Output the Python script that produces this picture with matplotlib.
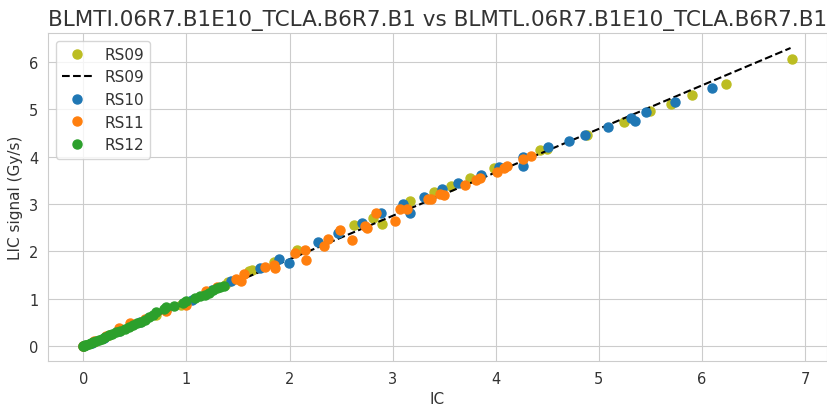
import matplotlib
matplotlib.use('Agg')
import matplotlib.pyplot as plt
import seaborn as sns

sns.set_style('whitegrid')

# RS09
rs09_x = [0.0, 0.1, 0.25, 0.45, 0.7, 0.95, 1.2, 1.37, 1.40, 1.61, 1.64, 1.85, 2.07,
          2.63, 2.81, 2.90, 3.17, 3.40, 3.57, 3.75, 3.98, 4.43, 4.50, 4.89, 5.24,
          5.50, 5.70, 5.90, 6.23, 6.87]
rs09_y = [0.0, 0.09, 0.23, 0.42, 0.66, 0.88, 1.12, 1.29, 1.36, 1.59, 1.61, 1.78, 2.02,
          2.55, 2.71, 2.57, 3.06, 3.26, 3.38, 3.55, 3.76, 4.13, 4.15, 4.45, 4.73,
          4.97, 5.10, 5.29, 5.54, 6.06]

# fitted line for RS09
fit_x = [0.0, 6.86]
fit_y = [0.0, 6.29]

rs10_x = [0.0, 0.08, 0.2, 0.35, 0.55, 0.8, 1.05, 1.25, 1.43, 1.71, 1.90, 1.99, 2.28,
          2.47, 2.70, 2.89, 3.10, 3.17, 3.30, 3.48, 3.63, 3.86, 4.03, 4.26, 4.26,
          4.51, 4.71, 4.87, 5.09, 5.31, 5.35, 5.46, 5.74, 6.10]
rs10_y = [0.0, 0.07, 0.18, 0.33, 0.52, 0.76, 0.98, 1.18, 1.38, 1.66, 1.84, 1.76, 2.20,
          2.39, 2.59, 2.80, 2.99, 2.81, 3.15, 3.31, 3.45, 3.62, 3.78, 3.99, 3.80,
          4.20, 4.33, 4.46, 4.63, 4.81, 4.76, 4.94, 5.16, 5.44]

rs11_x = [0.0, 0.1, 0.22, 0.35, 0.45, 0.6, 0.80, 1.0, 1.19, 1.30, 1.48, 1.53, 1.56,
          1.76, 1.85, 1.86, 2.05, 2.15, 2.16, 2.33, 2.37, 2.49, 2.61, 2.73, 2.75,
          2.84, 3.02, 3.07, 3.14, 3.34, 3.37, 3.46, 3.50, 3.70, 3.81, 3.85, 4.01,
          4.08, 4.11, 4.26, 4.34]
rs11_y = [0.0, 0.10, 0.22, 0.38, 0.50, 0.58, 0.74, 0.88, 1.16, 1.24, 1.41, 1.37, 1.52,
          1.68, 1.71, 1.66, 1.96, 2.04, 1.82, 2.11, 2.26, 2.46, 2.24, 2.54, 2.50,
          2.80, 2.64, 2.90, 2.89, 3.10, 3.10, 3.22, 3.20, 3.41, 3.50, 3.54, 3.68,
          3.76, 3.80, 3.94, 4.01]

rs12_x = [0.0, 0.01, 0.02, 0.03, 0.05, 0.07, 0.09, 0.12, 0.15, 0.18, 0.21, 0.25, 0.28,
          0.32, 0.36, 0.40, 0.44, 0.48, 0.52, 0.56, 0.60, 0.64, 0.68, 0.70, 0.78,
          0.80, 0.88, 0.97, 1.00, 1.08, 1.13, 1.18, 1.22, 1.26, 1.30, 1.33, 1.36]
rs12_y = [0.0, 0.01, 0.02, 0.03, 0.04, 0.06, 0.08, 0.11, 0.14, 0.16, 0.19, 0.23, 0.26,
          0.29, 0.33, 0.37, 0.41, 0.44, 0.48, 0.52, 0.56, 0.62, 0.66, 0.72, 0.78,
          0.82, 0.85, 0.92, 0.95, 1.02, 1.05, 1.09, 1.13, 1.18, 1.22, 1.25, 1.27]

fig, ax = plt.subplots(figsize=(8.27, 4.06), dpi=100)

ax.plot(rs09_x, rs09_y, 'o', color='C8', markersize=6.5, label='RS09')
ax.plot(fit_x, fit_y, 'k--', label='RS09')
ax.plot(rs10_x, rs10_y, 'o', color='C0', markersize=6.5, label='RS10')
ax.plot(rs11_x, rs11_y, 'o', color='C1', markersize=6.5, label='RS11')
ax.plot(rs12_x, rs12_y, 'o', color='C2', markersize=6.5, label='RS12')

ax.set_title('BLMTI.06R7.B1E10_TCLA.B6R7.B1 vs BLMTL.06R7.B1E10_TCLA.B6R7.B1',
             fontsize=15.5, color='#333333')
ax.set_xlabel('IC', fontsize=11, color='#333333')
ax.set_ylabel('LIC signal (Gy/s)', fontsize=11, color='#333333')
ax.tick_params(labelsize=10.5, labelcolor='#333333')
leg = ax.legend(loc='upper left', fontsize=11)
for t in leg.get_texts():
    t.set_color('#333333')

fig.subplots_adjust(left=0.058, right=1.0, top=0.916, bottom=0.108)
fig.savefig('out.png')
